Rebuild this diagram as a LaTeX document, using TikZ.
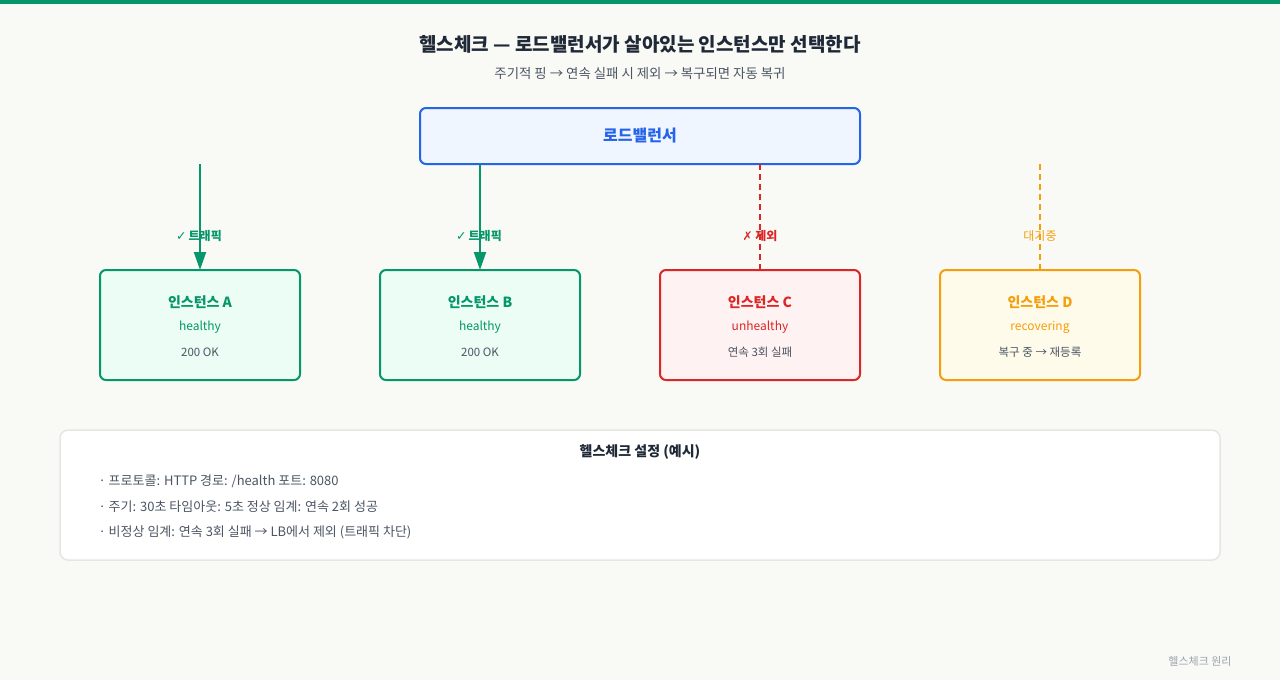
\documentclass[tikz,border=0pt]{standalone}
\usepackage{fontspec}
\setmainfont{Noto Sans CJK KR}
\newfontfamily\symfont{DejaVu Sans}
\usetikzlibrary{arrows.meta}
\definecolor{bg}{HTML}{F9FAF6}
\definecolor{topbar}{HTML}{059669}
\definecolor{ink}{HTML}{1F2937}
\definecolor{sub}{HTML}{4B5563}
\definecolor{mut}{HTML}{6B7280}
\definecolor{foot}{HTML}{9CA3AF}
\definecolor{lbfill}{HTML}{EFF6FF}
\definecolor{lbdraw}{HTML}{2563EB}
\definecolor{gfill}{HTML}{ECFDF5}
\definecolor{gdraw}{HTML}{059669}
\definecolor{rfill}{HTML}{FEF2F2}
\definecolor{rdraw}{HTML}{DC2626}
\definecolor{ofill}{HTML}{FFFBEB}
\definecolor{odraw}{HTML}{F59E0B}
\definecolor{panel}{HTML}{FFFFFF}
\definecolor{paneldraw}{HTML}{E5E7E0}
\tikzset{
  inst/.style={draw, line width=2pt, rounded corners=6pt, minimum width=200pt, minimum height=110pt, outer sep=0pt, anchor=north west},
  ttl/.style={font=\bfseries\fontsize{14}{16}\selectfont, anchor=center},
  stat/.style={font=\fontsize{12}{14}\selectfont, anchor=center},
  det/.style={font=\fontsize{11.5}{13}\selectfont, text=sub, anchor=center},
  lbl/.style={font=\bfseries\fontsize{12}{14}\selectfont, anchor=center},
  okarrow/.style={draw=gdraw, line width=2pt, -{Triangle[length=18pt,width=12pt]}},
  dashline/.style={line width=2pt, dash pattern=on 6pt off 4pt},
  item/.style={font=\fontsize{13}{15}\selectfont, text=sub, anchor=west},
}
\begin{document}
\begin{tikzpicture}[x=1pt,y=-1pt]
\useasboundingbox (0,0) rectangle (1280,680);
\fill[bg] (0,0) rectangle (1280,680);
\fill[topbar] (0,0) rectangle (1280,4);

\node[font=\bfseries\fontsize{19}{22}\selectfont, text=ink] (title) at (640,44) {헬스체크 — 로드밸런서가 살아있는 인스턴스만 선택한다};
\node[font=\fontsize{13.4}{15}\selectfont, text=sub] (subtitle) at (640,73) {주기적 핑 → 연속 실패 시 제외 → 복구되면 자동 복귀};

\node[draw=lbdraw, fill=lbfill, line width=2pt, rounded corners=6pt, minimum width=440pt, minimum height=56pt, outer sep=0pt, anchor=north west] (lb) at (420,108) {};
\node[font=\bfseries\fontsize{16}{18}\selectfont, text=lbdraw] (lbt) at (640,136) {로드밸런서};

\coordinate (sA) at (200,164);
\coordinate (sB) at (480,164);
\coordinate (sC) at (760,164);
\coordinate (sD) at (1040,164);

\node[inst, draw=gdraw, fill=gfill] (iA) at (100,270) {};
\node[inst, draw=gdraw, fill=gfill] (iB) at (380,270) {};
\node[inst, draw=rdraw, fill=rfill] (iC) at (660,270) {};
\node[inst, draw=odraw, fill=ofill] (iD) at (940,270) {};

\draw[okarrow] (sA) -- (iA.north);
\draw[okarrow] (sB) -- (iB.north);
\draw[dashline, draw=rdraw] (sC) -- (iC.north);
\draw[dashline, draw=odraw] (sD) -- (iD.north);

\node[lbl, text=gdraw] (lA) at (199,236) {{\symfont\mdseries\fontsize{12.5}{14}\selectfont ✓}\,트래픽};
\node[lbl, text=gdraw] (lB) at (479,236) {{\symfont\mdseries\fontsize{12.5}{14}\selectfont ✓}\,트래픽};
\node[lbl, text=rdraw] (lC) at (760,236) {{\symfont\mdseries\fontsize{12}{14}\selectfont ✗} 제외};
\node[lbl, font=\fontsize{12}{14}\selectfont, text=odraw] (lD) at (1040,236) {대기중};

\node[ttl, text=gdraw] (tA) at (200,302) {인스턴스 A};
\node[stat, text=gdraw] (sAt) at (200,327) {healthy};
\node[det] (dA) at (200,352) {200 OK};

\node[ttl, text=gdraw] (tB) at (480,302) {인스턴스 B};
\node[stat, text=gdraw] (sBt) at (480,327) {healthy};
\node[det] (dB) at (480,352) {200 OK};

\node[ttl, text=rdraw] (tC) at (760,302) {인스턴스 C};
\node[stat, text=rdraw] (sCt) at (760,327) {unhealthy};
\node[det] (dC) at (760,352) {연속 3회 실패};

\node[ttl, text=odraw] (tD) at (1040,302) {인스턴스 D};
\node[stat, text=odraw] (sDt) at (1040,327) {recovering};
\node[det] (dD) at (1040,352) {복구 중 → 재등록};

\node[draw=paneldraw, fill=panel, line width=1.5pt, rounded corners=8pt, minimum width=1160pt, minimum height=130pt, outer sep=0pt, anchor=north west] (panel) at (60,430) {};
\node[font=\bfseries\fontsize{14}{16}\selectfont, text=ink] (pt) at (640,452) {헬스체크 설정 (예시)};
\node[item] (i1) at (95,481) {· 프로토콜: HTTP 경로: /health 포트: 8080};
\node[item] (i2) at (95,507) {· 주기: 30초 타임아웃: 5초 정상 임계: 연속 2회 성공};
\node[item] (i3) at (95,532) {· 비정상 임계: 연속 3회 실패 → LB에서 제외 (트래픽 차단)};

\node[font=\fontsize{11}{12}\selectfont, text=foot] (footer) at (1200,661) {헬스체크 원리};
\end{tikzpicture}
\end{document}
